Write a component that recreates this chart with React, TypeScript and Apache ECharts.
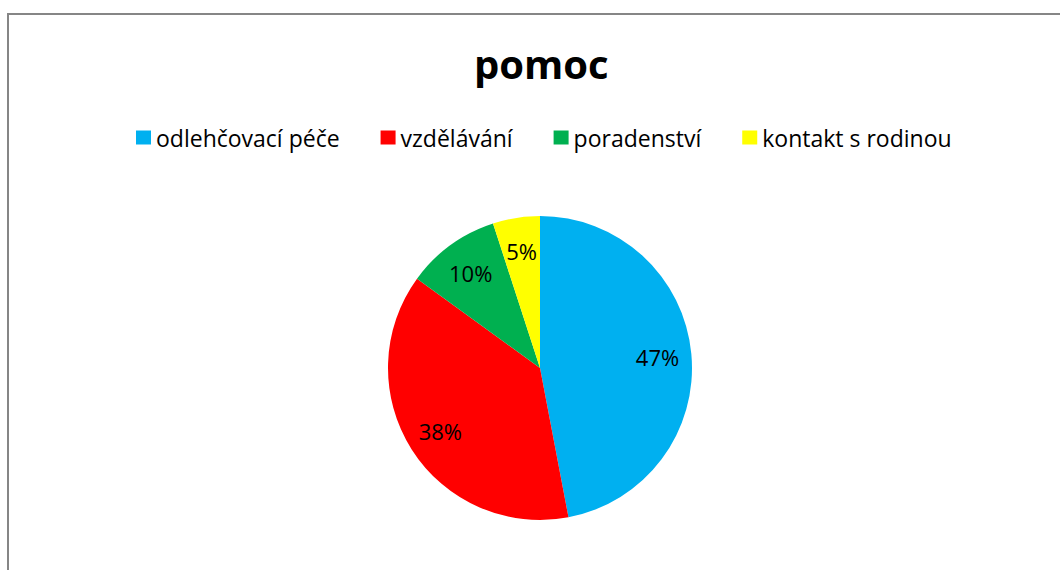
import React, { useEffect, useRef } from "react";
import * as echarts from "echarts";

const titleText = "pomoc";
const categories = ["odlehčovací péče", "vzdělávání", "poradenství", "kontakt s rodinou"];
const values = [47, 38, 10, 5];
const colors = ["#00B0F0", "#FF0000", "#00B050", "#FFFF00"];

export default function App() {
  const ref = useRef<HTMLDivElement>(null);
  useEffect(() => {
    if (!ref.current) return;
    const chart = echarts.init(ref.current, null, { renderer: "svg" });
    const font = "'Open Sans', sans-serif";
    const data = categories.map((name, i) => ({
      name,
      value: values[i],
      itemStyle: { color: colors[i] },
    }));
    chart.setOption({
      animation: false,
      backgroundColor: "#ffffff",
      title: {
        text: titleText,
        left: 469,
        top: 38,
        textStyle: { fontFamily: font, fontSize: 40, fontWeight: "bold", color: "#000" },
      },
      legend: {
        data: categories,
        top: 126,
        left: 136,
        padding: 0,
        itemWidth: 15,
        itemHeight: 14,
        itemGap: 41,
        icon: "rect",
        selectedMode: false,
        textStyle: { fontFamily: font, fontSize: 23, color: "#000", padding: [0, 0, 0, 0] },
      },
      graphic: [
        {
          type: "rect",
          shape: { x: 8, y: 14, width: 1100, height: 600 },
          style: { fill: "none", stroke: "#868686", lineWidth: 2 },
          silent: true,
          z: 100,
        },
      ],
      series: [
        {
          type: "pie",
          center: [540, 368],
          radius: [0, 152],
          startAngle: 90,
          clockwise: true,
          silent: true,
          label: { show: false },
          labelLine: { show: false },
          emphasis: { disabled: true },
          data,
        },
        {
          type: "pie",
          center: [540, 368],
          radius: [0, 230],
          startAngle: 90,
          clockwise: true,
          silent: true,
          itemStyle: { color: "rgba(0,0,0,0)" },
          label: {
            show: true,
            position: "inside",
            formatter: (p: any) => Math.round(p.percent) + "%",
            fontFamily: font,
            fontSize: 22,
            color: "#000",
          },
          labelLine: { show: false },
          emphasis: { disabled: true },
          data: categories.map((name, i) => ({ name, value: values[i] })),
        },
      ],
    });
    return () => chart.dispose();
  }, []);
  return (
    <div
      ref={ref}
      style={{ position: "absolute", left: 0, top: 0, width: 1060, height: 570 }}
    />
  );
}
